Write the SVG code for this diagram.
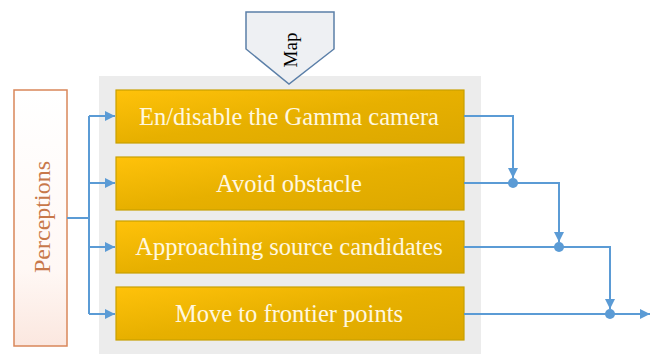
<svg xmlns="http://www.w3.org/2000/svg" width="651" height="354" viewBox="0 0 651 354">
<defs>
<linearGradient id="gold" x1="0" y1="0" x2="1" y2="1">
<stop offset="0" stop-color="#ffc20a"/>
<stop offset="0.5" stop-color="#e7b000"/>
<stop offset="1" stop-color="#dca800"/>
</linearGradient>
<linearGradient id="perc" x1="0" y1="0" x2="0" y2="1">
<stop offset="0" stop-color="#ffffff"/>
<stop offset="0.7" stop-color="#fff8f5"/>
<stop offset="1" stop-color="#fbe7df"/>
</linearGradient>
<marker id="arr" viewBox="0 0 10 10" refX="10" refY="5" markerWidth="10" markerHeight="10" markerUnits="userSpaceOnUse" orient="auto">
<path d="M0,0 L10,5 L0,10 Z" fill="#5b9bd5"/>
</marker>
<style>
.box{fill:url(#gold);stroke:#c9a000;stroke-width:1.2}
.btxt{font-family:"Liberation Serif",serif;font-size:24.5px;fill:#fff8e0;text-anchor:middle}
.conn{fill:none;stroke:#5b9bd5;stroke-width:2}
.dot{fill:#5b9bd5}
</style>
</defs>
<rect x="0" y="0" width="651" height="354" fill="#ffffff"/>
<rect id="panel" x="99" y="76" width="382" height="278" fill="#ececec"/>
<g id="map">
<path d="M246,12 L334,12 L334,49 L289,84 L246,49 Z" fill="#eef0f3" stroke="#5b7fa8" stroke-width="1.5"/>
<text x="0" y="0" transform="translate(297,50) rotate(-90)" font-family="'Liberation Serif',serif" font-size="19" fill="#000" text-anchor="middle">Map</text>
</g>
<g id="perceptions">
<rect x="14" y="90" width="53" height="256" fill="url(#perc)" stroke="#d9875a" stroke-width="1.5"/>
<text x="0" y="0" transform="translate(50,217) rotate(-90)" font-family="'Liberation Serif',serif" font-size="24" fill="#c8784a" text-anchor="middle">Perceptions</text>
</g>
<g id="b1"><rect class="box" x="116" y="90" width="348" height="53"/><text class="btxt" x="289" y="124.5">En/disable the Gamma camera</text></g>
<g id="b2"><rect class="box" x="116" y="157" width="348" height="53"/><text class="btxt" x="289" y="191.5">Avoid obstacle</text></g>
<g id="b3"><rect class="box" x="116" y="221" width="348" height="52"/><text class="btxt" x="289" y="255">Approaching source candidates</text></g>
<g id="b4"><rect class="box" x="116" y="287" width="348" height="53"/><text class="btxt" x="289" y="321.5">Move to frontier points</text></g>
<g id="connectors">
<path class="conn" d="M67,218 H89"/>
<path class="conn" d="M89,116 V314"/>
<path class="conn" d="M89,116 H115" marker-end="url(#arr)"/>
<path class="conn" d="M89,183 H115" marker-end="url(#arr)"/>
<path class="conn" d="M89,247 H115" marker-end="url(#arr)"/>
<path class="conn" d="M89,314 H115" marker-end="url(#arr)"/>
<path class="conn" d="M464,116 H513 V178" marker-end="url(#arr)"/>
<path class="conn" d="M464,183 H559 V242" marker-end="url(#arr)"/>
<path class="conn" d="M464,247 H610 V309" marker-end="url(#arr)"/>
<path class="conn" d="M464,314 H650" marker-end="url(#arr)"/>
<circle class="dot" cx="513" cy="183" r="5"/>
<circle class="dot" cx="559" cy="247" r="5"/>
<circle class="dot" cx="610" cy="314" r="5"/>
</g>
</svg>
